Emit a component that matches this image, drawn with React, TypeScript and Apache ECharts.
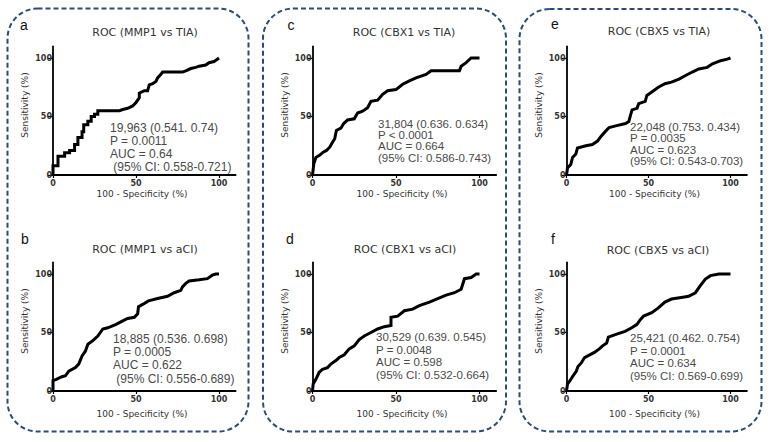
import React, { useEffect, useRef } from "react";
import * as echarts from "echarts";

// ---------- data ----------
const panelLetters = ["a", "b", "c", "d", "e", "f"];
const panelTitles = [
  "ROC (MMP1 vs TIA)",
  "ROC (MMP1 vs aCI)",
  "ROC (CBX1 vs TIA)",
  "ROC (CBX1 vs aCI)",
  "ROC (CBX5 vs TIA)",
  "ROC (CBX5 vs aCI)",
];
const axisTicks = [0, 50, 100];
const xAxisName = "100 - Specificity (%)";
const yAxisName = "Sensitivity (%)";

const rocMMP1_TIA: [number, number][] = [
  [0, 0], [0, 8], [3, 8], [3, 16], [7, 16], [7, 19], [10, 19], [10, 21], [13, 21], [13, 26],
  [15, 26], [15, 32], [17.5, 32], [17.5, 37], [18.5, 37], [18.5, 43], [21, 43], [21, 46],
  [23, 46], [23, 50], [25, 50], [25, 52], [27, 52], [27, 55], [40, 55], [42, 56], [45, 57],
  [48, 59], [50, 62], [52, 66], [52, 70], [55, 72], [57, 72], [58, 77], [60, 78], [62, 80],
  [63, 83], [65, 86], [66, 88], [78, 88], [80, 89], [83, 91], [86, 92], [88, 93], [92, 94],
  [94, 96], [97, 97], [99, 99], [100, 100],
];
const rocMMP1_aCI: [number, number][] = [
  [0, 0], [0, 9], [2, 10], [5, 12], [7.5, 13], [9.5, 17], [13.5, 20], [15.5, 23], [17.5, 30],
  [19.5, 34], [21, 40], [24, 43], [27, 47], [30, 53], [33, 54], [38, 57], [42, 60], [45, 62],
  [49, 63], [51, 66], [51.5, 72], [54, 74], [57.5, 77], [63, 79], [69, 81], [73, 84], [77, 86],
  [78, 89], [80, 92], [82, 94], [88, 95], [93, 96], [96, 99], [98, 100], [100, 100],
];
const rocCBX1_TIA: [number, number][] = [
  [0, 0], [0.8, 9.5], [2, 15], [4.4, 17], [6.4, 19.5], [8.4, 21], [10.4, 24], [12, 28],
  [13.3, 31], [14.3, 38], [17, 40], [18.7, 44], [21, 47], [25, 48], [27, 53], [30, 54.6],
  [33, 57.5], [35, 63], [39, 64], [42, 69], [45, 72], [50, 73], [54, 77.6], [58, 80.5],
  [62, 83], [68, 86], [71, 89], [88, 89], [89, 93], [92, 96], [95, 100], [100, 100],
];
const rocCBX1_aCI: [number, number][] = [
  [0, 0], [0.4, 6], [2, 10], [4, 16], [6, 18.6], [9, 20], [11, 23], [14, 26], [16, 28.6],
  [19, 31], [22, 36], [25, 38.6], [28, 44], [31, 47], [35, 50], [39, 53], [43, 55], [47, 56],
  [47, 63], [51, 64], [55, 68.6], [60, 70], [64, 73], [70, 76], [75, 79], [80, 82], [85, 84],
  [89, 87], [91, 96], [95, 97], [98, 100], [100, 100],
];
const rocCBX5_TIA: [number, number][] = [
  [0, 0], [0.6, 6], [2.6, 9], [3.7, 15], [5.7, 18], [6.7, 23], [11.8, 25], [15.8, 26],
  [18.9, 29], [21, 33], [24, 37.7], [26, 40.6], [30, 42], [36, 44], [38, 45.7], [39, 51],
  [40, 55.7], [43, 57], [44, 61], [48, 63], [49, 68], [52, 71], [56, 75], [60, 78],
  [64, 79.4], [68.6, 82], [72.6, 85], [76.7, 88], [80.7, 90.6], [85.8, 92], [89, 95],
  [94, 97.7], [98, 99], [100, 100],
];
const rocCBX5_aCI: [number, number][] = [
  [0, 0], [0.6, 6], [2, 8.6], [4, 13], [6, 17], [7, 21], [9, 24], [11, 28.6], [13, 30],
  [17, 33], [20, 36], [22, 38.6], [24.5, 41], [25.5, 46], [30.6, 48.6], [35.7, 51],
  [39.8, 54], [43, 57], [45, 61], [47, 64], [52, 67], [56, 71], [60, 76], [64, 78.6],
  [70, 80], [74.5, 81], [78.6, 84], [81.6, 90], [84.7, 95.7], [87.8, 98.6], [92.9, 100],
  [100, 100],
];
const rocCurves = [rocMMP1_TIA, rocMMP1_aCI, rocCBX1_TIA, rocCBX1_aCI, rocCBX5_TIA, rocCBX5_aCI];

const annotMMP1_TIA = ["19,963 (0.541. 0.74)", "P = 0.0011", "AUC = 0.64", " (95% CI: 0.558-0.721)"];
const annotMMP1_aCI = ["18,885 (0.536. 0.698)", "P = 0.0005", "AUC = 0.622", " (95% CI: 0.556-0.689)"];
const annotCBX1_TIA = ["31,804 (0.636. 0.634)", "P < 0.0001", "AUC = 0.664", "(95% CI: 0.586-0.743)"];
const annotCBX1_aCI = ["30,529 (0.639. 0.545)", "P = 0.0048", "AUC = 0.598", "(95% CI: 0.532-0.664)"];
const annotCBX5_TIA = ["22,048 (0.753. 0.434)", "P = 0.0035", "AUC = 0.623", "(95% CI: 0.543-0.703)"];
const annotCBX5_aCI = ["25,421 (0.462. 0.754)", "P = 0.0001", "AUC = 0.634", "(95% CI: 0.569-0.699)"];
const annotations = [annotMMP1_TIA, annotMMP1_aCI, annotCBX1_TIA, annotCBX1_aCI, annotCBX5_TIA, annotCBX5_aCI];

// ---------- layout (pixels) ----------
const W = 769;
const H = 442;
const colX0 = [53, 312.5, 566.5];
const colSpan = [166, 167, 164];
const rowY0 = [175, 391];
const rowSpan = 117;
const AX_MAX = 110;
const boxes = [
  [7.5, 8.5, 241, 423],
  [263, 8.5, 243, 423],
  [519.5, 9, 242, 422.5],
];
const titlePos = [[145, 32], [145, 249], [404, 32], [405, 249], [659, 31], [658, 250]];
const letterPos = [[24, 25], [25, 239], [291, 25], [290, 239], [555, 24], [553, 239]];
// x, first-line centre y, font size, line height
const annotPos = [
  [110, 128, 12, 13],
  [113, 339, 12, 13.2],
  [378, 124, 11.5, 11.2],
  [376, 337, 11.5, 12.6],
  [630, 127, 11.5, 11.3],
  [630, 338, 11.5, 12.7],
];

export default function App() {
  const ref = useRef<HTMLDivElement>(null);

  useEffect(() => {
    if (!ref.current) return;
    const chart = echarts.init(ref.current, undefined, { renderer: "svg", width: W, height: H });

    const grids: any[] = [];
    const xAxes: any[] = [];
    const yAxes: any[] = [];
    const series: any[] = [];
    const graphics: any[] = [];

    boxes.forEach(([x, y, w, h]) => {
      graphics.push({
        type: "rect",
        shape: { x, y, width: w, height: h, r: 30 },
        style: { fill: "none", stroke: "#2a4b7f", lineWidth: 2, lineDash: [5, 3] },
        z: 1,
      });
    });

    for (let i = 0; i < 6; i++) {
      const c = Math.floor(i / 2);
      const r = i % 2;
      const x0 = colX0[c];
      const y0 = rowY0[r];
      const gw = (colSpan[c] * AX_MAX) / 100;
      const gh = (rowSpan * AX_MAX) / 100;
      grids.push({ left: x0, top: y0 - gh, width: gw, height: gh, containLabel: false });

      const axisCommon = {
        gridIndex: i,
        type: "value",
        min: 0,
        max: AX_MAX,
        splitLine: { show: false },
        axisLine: { show: true, onZero: false, lineStyle: { color: "#000", width: 1.8 } },
      };
      xAxes.push({
        ...axisCommon,
        axisTick: { show: true, customValues: axisTicks, length: 3, lineStyle: { color: "#000", width: 1.2 } },
        axisLabel: {
          customValues: axisTicks,
          fontSize: 8,
          fontFamily: "DejaVu Sans",
          fontWeight: "bold",
          color: "#333",
          margin: 4,
        },
      });
      yAxes.push({
        ...axisCommon,
        axisTick: { show: true, customValues: axisTicks, length: 5, lineStyle: { color: "#000", width: 1.2 } },
        axisLabel: {
          customValues: axisTicks,
          fontSize: 8,
          fontFamily: "DejaVu Sans",
          fontWeight: "bold",
          color: "#333",
          margin: 1,
        },
      });
      series.push({
        type: "line",
        xAxisIndex: i,
        yAxisIndex: i,
        data: rocCurves[i],
        showSymbol: false,
        symbol: "none",
        lineStyle: { color: "#000", width: 3, join: "miter" },
        z: 3,
      });

      graphics.push({
        type: "text",
        x: titlePos[i][0],
        y: titlePos[i][1],
        style: {
          text: panelTitles[i],
          fontSize: 11,
          fontFamily: "DejaVu Sans",
          fill: "#333",
          textAlign: "center",
          textVerticalAlign: "middle",
        },
      });
      graphics.push({
        type: "text",
        x: letterPos[i][0],
        y: letterPos[i][1],
        style: {
          text: panelLetters[i],
          fontSize: 14,
          fontFamily: "Liberation Sans",
          fill: "#111",
          textAlign: "center",
          textVerticalAlign: "middle",
        },
      });
      const [ax, ay, afs, alh] = annotPos[i];
      graphics.push({
        type: "text",
        x: ax,
        y: ay - alh / 2,
        style: {
          text: annotations[i].join("\n"),
          fontSize: afs,
          lineHeight: alh,
          fontFamily: "Liberation Sans",
          fill: "#4a4a4a",
          textAlign: "left",
          textVerticalAlign: "top",
        },
        z: 5,
      });
      graphics.push({
        type: "text",
        x: x0 - 28,
        y: y0 - 70,
        rotation: Math.PI / 2,
        style: {
          text: yAxisName,
          fontSize: 9,
          fontFamily: "DejaVu Sans",
          fill: "#333",
          textAlign: "center",
          textVerticalAlign: "middle",
        },
      });
      graphics.push({
        type: "text",
        x: x0 + (89 * colSpan[c]) / 166,
        y: y0 + (r === 0 ? 18.5 : 22.7),
        style: {
          text: xAxisName,
          fontSize: 9,
          fontFamily: "DejaVu Sans",
          fill: "#333",
          textAlign: "center",
          textVerticalAlign: "middle",
        },
      });
    }

    chart.setOption({
      animation: false,
      backgroundColor: "#fff",
      grid: grids,
      xAxis: xAxes,
      yAxis: yAxes,
      series,
      graphic: { elements: graphics },
    });

    return () => {
      chart.dispose();
    };
  }, []);

  return (
    <div
      ref={ref}
      style={{ position: "fixed", left: 0, top: 0, width: W, height: H, background: "#fff" }}
    />
  );
}
